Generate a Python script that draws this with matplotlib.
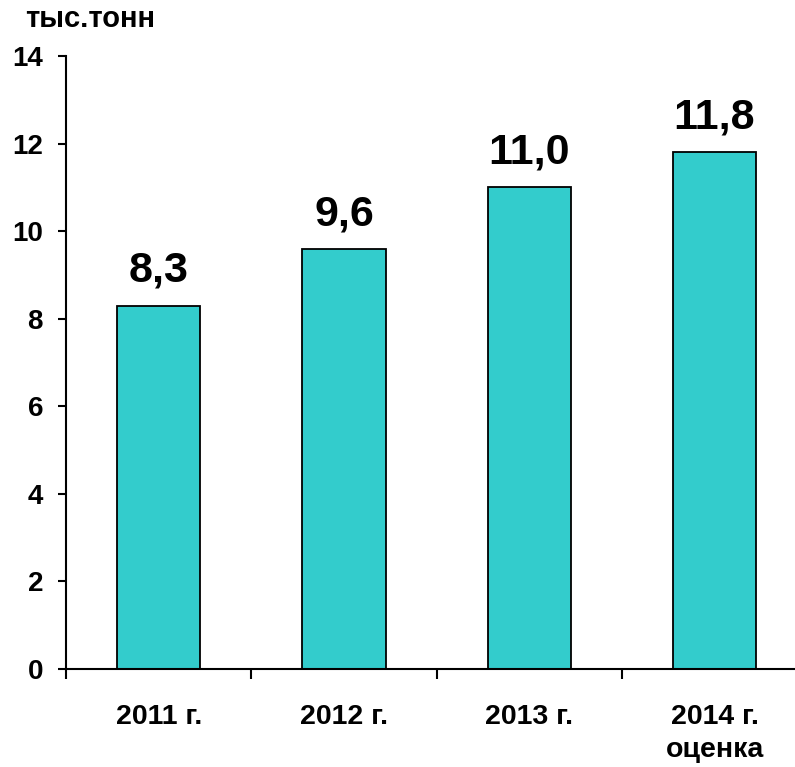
import matplotlib
matplotlib.use("Agg")
import matplotlib.pyplot as plt
import numpy as np

categories = ["2011 г.", "2012 г.", "2013 г.", "2014 г.\nоценка"]
values = [8.3, 9.6, 11.0, 11.8]
value_labels = ["8,3", "9,6", "11,0", "11,8"]
yticks = [0, 2, 4, 6, 8, 10, 12, 14]
unit_label = "тыс.тонн"

plt.rcParams['font.family'] = ['Liberation Sans', 'DejaVu Sans']

fig = plt.figure(figsize=(7.95, 7.67), dpi=100)
W, H = 795, 767
left, bottom, top = 66, 669, 56
cat_w = 185.3
ax = fig.add_axes([left / W, (H - bottom) / H, 4 * cat_w / W, (bottom - top) / H])

x = np.arange(len(categories))
ax.bar(x, values, width=0.45, color="#33CCCC", edgecolor="black", linewidth=1.3, zorder=2)

ax.set_xlim(-0.5, len(categories) - 0.5)
ax.set_ylim(0, 14)
ax.set_yticks(yticks)
ax.set_yticklabels([str(t) for t in yticks], fontsize=20, fontweight='bold')

ax.set_xticks(x)
ax.set_xticklabels(categories, fontsize=20.5, fontweight='bold', linespacing=1.35)
ax.tick_params(axis='x', which='major', length=0, pad=25)
ax.set_xticks(np.arange(-0.5, len(categories), 1.0), minor=True)
ax.tick_params(axis='x', which='minor', length=7, width=1.5, direction='out')
ax.tick_params(axis='y', length=6, width=1.5, direction='out', pad=10.5)

for sp in ['top', 'right']:
    ax.spines[sp].set_visible(False)
for sp in ['left', 'bottom']:
    ax.spines[sp].set_linewidth(1.5)

for xi, v, lab in zip(x, values, value_labels):
    ax.annotate(lab, (xi, v), xytext=(0, 17), textcoords='offset points',
                ha='center', va='baseline', fontsize=31, fontweight='bold')

fig.text(25 / W, 1 - 19 / H, unit_label, fontsize=21, fontweight='bold',
         ha='left', va='center')

fig.savefig("out.png", dpi=100)
